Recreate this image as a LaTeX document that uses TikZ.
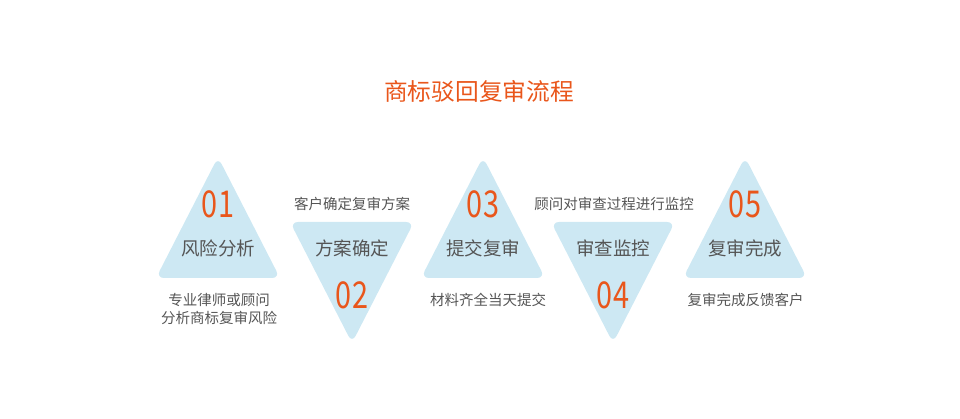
\documentclass[tikz,border=0pt]{standalone}
\usepackage{xcolor}
\usepackage{fontspec}
\setmainfont{Noto Sans CJK SC}
\newfontfamily\digitfont[FakeStretch=0.78]{Noto Sans CJK SC}
\usetikzlibrary{positioning}

\definecolor{tribg}{HTML}{CDE8F3}
\definecolor{flowred}{HTML}{E9561B}
\definecolor{flowgrey}{HTML}{555555}

\begin{document}
\begin{tikzpicture}[
  x=1pt, y=-1pt,
  tri/.style={fill=tribg, rounded corners=8pt},
  num/.style={font=\digitfont\fontsize{37}{37}\selectfont, text=flowred, inner sep=0pt},
  stepname/.style={font=\fontsize{18.5}{20}\selectfont, text=flowgrey, inner sep=0pt},
  note/.style={font=\fontsize{14.5}{18}\selectfont, text=flowgrey, inner sep=0pt, align=center}
]
  \useasboundingbox (0,0) rectangle (960,419);

  \node[font=\fontsize{23.7}{26}\selectfont, text=flowred, inner sep=0pt] (title) at (479,91) {商标驳回复审流程};

  % triangles
  \fill[tri] (218,157) -- (280,278) -- (156,278) -- cycle;
  \fill[tri] (290,222) -- (414,222) -- (352,343) -- cycle;
  \fill[tri] (483,157) -- (545,278) -- (421,278) -- cycle;
  \fill[tri] (551,222) -- (675,222) -- (613,343) -- cycle;
  \fill[tri] (745,157) -- (807,278) -- (683,278) -- cycle;

  % step 1
  \node[num] (n1) at (218,204) {01};
  \node[stepname] (s1) at (218,248.5) {风险分析};
  \node[note] (t1) at (219,309) {专业律师或顾问\\分析商标复审风险};

  % step 2
  \node[note] (t2) at (352,203.5) {客户确定复审方案};
  \node[stepname] (s2) at (352,248.5) {方案确定};
  \node[num] (n2) at (352,295) {02};

  % step 3
  \node[num] (n3) at (483,204) {03};
  \node[stepname] (s3) at (483,248.5) {提交复审};
  \node[note] (t3) at (488,300) {材料齐全当天提交};

  % step 4
  \node[note] (t4) at (614,203.5) {顾问对审查过程进行监控};
  \node[stepname] (s4) at (613,248.5) {审查监控};
  \node[num] (n4) at (613,295) {04};

  % step 5
  \node[num] (n5) at (745,204) {05};
  \node[stepname] (s5) at (745,248.5) {复审完成};
  \node[note] (t5) at (745.5,300) {复审完成反馈客户};
\end{tikzpicture}
\end{document}
